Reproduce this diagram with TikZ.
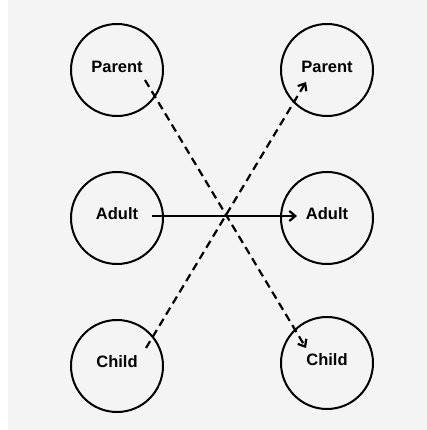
\documentclass[tikz,border=0pt]{standalone}
\usepackage{fontspec}
\setmainfont{Liberation Sans}
\usetikzlibrary{arrows.meta}
\definecolor{bg}{HTML}{F4F4F4}
\tikzset{
  person/.style={circle,draw=black,line width=2pt,minimum size=92pt,inner sep=0pt},
  lbl/.style={font=\bfseries\fontsize{16.5}{16.5}\selectfont,inner sep=0pt},
  link/.style={draw=black,line width=2.2pt,-{Straight Barb[length=6pt,width=10pt]}},
  dlink/.style={link,dash pattern=on 8pt off 5pt}
}
\begin{document}
\begin{tikzpicture}[x=1pt,y=1pt]
\useasboundingbox (0,0) rectangle (427,430);
\fill[bg] (8,0) rectangle (427,430);
\node[person] (cp1) at (117,360) {};
\node[person] (ca1) at (117,212) {};
\node[person] (cc1) at (117,64) {};
\node[person] (cp2) at (327,360) {};
\node[person] (ca2) at (327,212) {};
\node[person] (cc2) at (327,67) {};
\node[lbl] (tp1) at (117,363) {Parent};
\node[lbl] (ta1) at (117,216) {Adult};
\node[lbl] (tc1) at (117,68) {Child};
\node[lbl] (tp2) at (327,363) {Parent};
\node[lbl] (ta2) at (327,216) {Adult};
\node[lbl] (tc2) at (327,70) {Child};
\coordinate (p1s) at (145,350);
\coordinate (c2e) at (306,82);
\coordinate (c1s) at (146,82);
\coordinate (p2e) at (306,348);
\coordinate (a1s) at (152,214);
\coordinate (a2e) at (297,214);
\draw[dlink] (p1s) -- (c2e);
\draw[dlink] (c1s) -- (p2e);
\draw[link] (a1s) -- (a2e);
\end{tikzpicture}
\end{document}
